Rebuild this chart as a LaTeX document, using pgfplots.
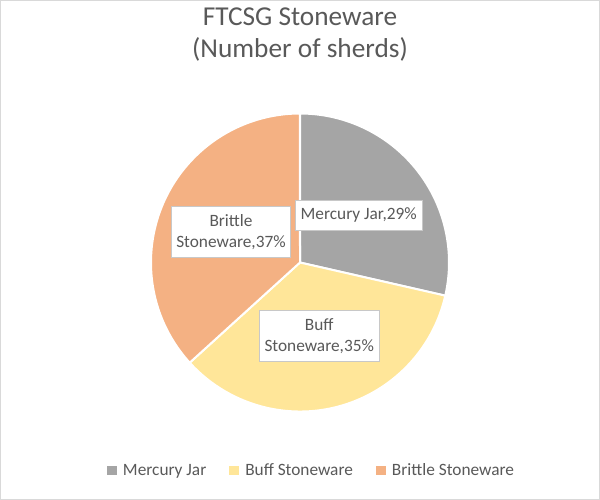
\documentclass[border=0pt]{standalone}
\usepackage{pgfplots}
\usepackage{pgfplotstable}
\pgfplotsset{compat=1.18}
\usepackage{fontspec}
\setmainfont{Carlito}
\definecolor{mercury}{HTML}{A5A5A5}
\definecolor{buff}{HTML}{FFE699}
\definecolor{brittle}{HTML}{F4B183}
\definecolor{txt}{HTML}{595959}
\definecolor{frame}{HTML}{D9D9D9}
\definecolor{lblframe}{HTML}{C8C8C8}
\pgfplotstableread{
name count
Mercury 42
Buff 51
Brittle 54
}\piedata
\pgfplotstablegetelem{0}{count}\of\piedata \let\va\pgfplotsretval
\pgfplotstablegetelem{1}{count}\of\piedata \let\vb\pgfplotsretval
\pgfplotstablegetelem{2}{count}\of\piedata \let\vc\pgfplotsretval
\pgfmathsetmacro{\tot}{\va+\vb+\vc}
\pgfmathsetmacro{\aA}{90-\va/\tot*360}
\pgfmathsetmacro{\aB}{\aA-\vb/\tot*360}
\pgfmathsetmacro{\aC}{\aB-\vc/\tot*360}
\begin{document}
\begin{tikzpicture}
\begin{axis}[
  width=600pt, height=500pt, scale only axis,
  xmin=0, xmax=600, ymin=0, ymax=500, y dir=reverse,
  hide axis, clip=false,
  legend style={at={(axis cs:310.5,470.5)}, anchor=center, draw=none, fill=none,
    font=\fontsize{17.3}{21}\selectfont\color{txt}, legend columns=-1,
    nodes={inner sep=0pt},
    /tikz/every odd column/.append style={column sep=6pt},
    /tikz/every even column/.append style={column sep=23pt}},
  legend image code/.code={\fill[#1,draw=none] (0pt,-4.8pt) rectangle (10pt,4.8pt);},
]
\addplot[draw=frame, fill=white, line width=1pt, forget plot] coordinates {(0.5,0.5) (599.5,0.5) (599.5,499.5) (0.5,499.5)} -- cycle;
\addplot[fill=mercury, draw=white, line width=2pt, line join=round] coordinates {(300,262.5)}
  -- ++(90:149pt) arc[start angle=90, end angle=\aA, radius=149pt] -- cycle;
\addlegendentry{Mercury Jar}
\addplot[fill=buff, draw=white, line width=2pt, line join=round] coordinates {(300,262.5)}
  -- ++(\aA:149pt) arc[start angle=\aA, end angle=\aB, radius=149pt] -- cycle;
\addlegendentry{Buff Stoneware}
\addplot[fill=brittle, draw=white, line width=2pt, line join=round] coordinates {(300,262.5)}
  -- ++(\aB:149pt) arc[start angle=\aB, end angle=\aC, radius=149pt] -- cycle;
\addlegendentry{Brittle Stoneware}
\node[anchor=base, text=txt, font=\fontsize{27.3}{32}\selectfont, inner sep=0pt] at (axis cs:300,26) {FTCSG Stoneware};
\node[anchor=base, text=txt, font=\fontsize{27.3}{32}\selectfont, inner sep=0pt] at (axis cs:300,57.5) {(Number of sherds)};
\node[fill=white, draw=lblframe, line width=0.8pt, inner sep=0pt, minimum width=127pt, minimum height=30pt,
  text=txt, font=\fontsize{17.3}{21}\selectfont] at (axis cs:358.7,215) {Mercury Jar,29\%};
\node[fill=white, draw=lblframe, line width=0.8pt, inner sep=0pt, minimum width=118.3pt, minimum height=51pt,
  align=center, text=txt, font=\fontsize{17.3}{21}\selectfont] at (axis cs:231,232.2) {Brittle\\Stoneware,37\%};
\node[fill=white, draw=lblframe, line width=0.8pt, inner sep=0pt, minimum width=119.7pt, minimum height=51.7pt,
  align=center, text=txt, font=\fontsize{17.3}{21}\selectfont] at (axis cs:319.2,335.8) {Buff\\Stoneware,35\%};
\end{axis}
\end{tikzpicture}
\end{document}
